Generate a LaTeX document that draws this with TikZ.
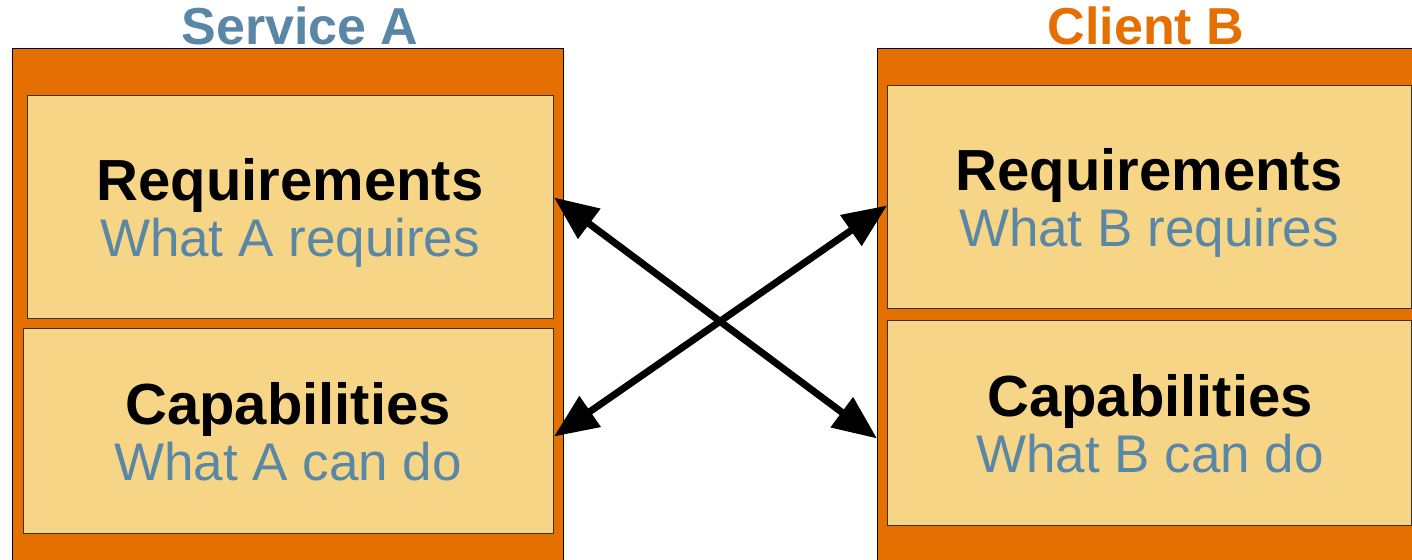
\documentclass[tikz,border=0pt]{standalone}
\usepackage{fontspec}
\setmainfont{Liberation Sans}
\usetikzlibrary{arrows.meta}
\definecolor{shellorange}{HTML}{E56F00}
\definecolor{panelfill}{HTML}{F7D586}
\definecolor{steelblue}{HTML}{5A87A6}
\tikzset{
  shell/.style={draw=black, line width=1pt, fill=shellorange},
  panel/.style={draw=black!80, line width=1pt, fill=panelfill},
  heading/.style={font=\fontsize{52}{52}\selectfont\bfseries, anchor=base},
  panelhead/.style={font=\fontsize{58}{58}\selectfont\bfseries, anchor=base, text=black, inner sep=0pt},
  panelsub/.style={font=\fontsize{53}{53}\selectfont, anchor=base, text=steelblue, inner sep=0pt},
  link/.style={line width=7pt, {Triangle[length=44pt,width=36pt]}-{Triangle[length=44pt,width=36pt]}}
}
\begin{document}
\begin{tikzpicture}[x=1pt, y=-1pt]
  \useasboundingbox (0,0) rectangle (1412,559);
  \clip (0,0) rectangle (1412,559);

  % Service A
  \node[heading, text=steelblue] (titleA) at (300,45) {Service A};
  \draw[shell] (12,49) rectangle (563,580);
  \node[panel, anchor=north west, minimum width=526pt, minimum height=223pt] (reqA) at (27,95) {};
  \node[panel, anchor=north west, minimum width=530pt, minimum height=205pt] (capA) at (23,328) {};
  \node[panelhead] (reqAhead) at (290,200) {Requirements};
  \node[panelsub] (reqAsub) at (290,256) {What A requires};
  \node[panelhead] (capAhead) at (288,424) {Capabilities};
  \node[panelsub] (capAsub) at (288,480) {What A can do};

  % Client B
  \node[heading, text=shellorange] (titleB) at (1146,45) {Client B};
  \draw[shell] (877,49) rectangle (1440,580);
  \node[panel, anchor=north west, minimum width=524pt, minimum height=223pt] (reqB) at (887,85) {};
  \node[panel, anchor=north west, minimum width=524pt, minimum height=205pt] (capB) at (887,320) {};
  \node[panelhead] (reqBhead) at (1149,190) {Requirements};
  \node[panelsub] (reqBsub) at (1149,246) {What B requires};
  \node[panelhead] (capBhead) at (1150,416) {Capabilities};
  \node[panelsub] (capBsub) at (1150,472) {What B can do};

  % arrow end points on the panel edges
  \coordinate (reqAend) at ([yshift=9.5pt]reqA.east);
  \coordinate (capAend) at ([yshift=-5.5pt]capA.east);
  \coordinate (reqBend) at ([yshift=-8.5pt]reqB.west);
  \coordinate (capBend) at ([xshift=-10pt,yshift=-15.5pt]capB.west);

  \draw[link] (reqAend) -- (capBend);
  \draw[link] (capAend) -- (reqBend);
\end{tikzpicture}
\end{document}
